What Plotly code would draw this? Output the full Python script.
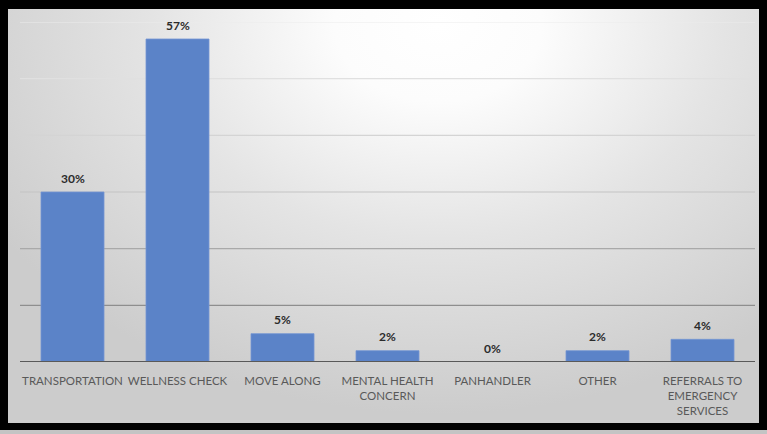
import base64
import plotly.graph_objects as go

categories = ["TRANSPORTATION", "WELLNESS CHECK", "MOVE ALONG", "MENTAL HEALTH<br>CONCERN",
              "PANHANDLER", "OTHER", "REFERRALS TO<br>EMERGENCY<br>SERVICES"]
values = [30, 57, 5, 2, 0, 2, 4]
labels = ["30%", "57%", "5%", "2%", "0%", "2%", "4%"]
grid_values = [10, 20, 30, 40, 50, 60]

grid_colors = ["#8e8e8e", "#a9a9a9", "#c3c3c3", "#d4d4d4", "#e0e0e0", "#ebebeb"]

W, H = 767, 434
ml, mr, mt, mb = 20, 12, 22, 72
pw = W - ml - mr
ph = H - mt - mb

def px_to_paper_x(p):
    return (p - ml) / pw

def px_to_paper_y(p):
    return (H - mb - p) / ph

svg = f'''<svg xmlns="http://www.w3.org/2000/svg" width="751" height="414" viewBox="0 0 751 414" preserveAspectRatio="none">
<defs><radialGradient id="g" gradientUnits="userSpaceOnUse" cx="430" cy="15" r="520"
 gradientTransform="translate(430 15) scale(1 0.75) translate(-430 -15)">
<stop offset="0" stop-color="#ffffff"/>
<stop offset="0.2" stop-color="#fcfcfc"/>
<stop offset="0.55" stop-color="#e4e4e4"/>
<stop offset="0.85" stop-color="#d4d4d4"/>
<stop offset="1" stop-color="#cccccc"/>
</radialGradient></defs>
<rect x="0" y="0" width="751" height="414" fill="url(#g)"/>
</svg>'''
src = "data:image/svg+xml;base64," + base64.b64encode(svg.encode()).decode()

fig = go.Figure()
fig.add_trace(go.Bar(
    x=categories, y=values,
    marker=dict(color="#5B83C8", line=dict(color="#7396D3", width=0.8)),
    width=0.6,
    hoverinfo="skip",
))

for c, v, t in zip(categories, values, labels):
    fig.add_annotation(x=c, y=v, text=f"<b>{t}</b>", showarrow=False,
                       yanchor="middle", yshift=14,
                       font=dict(family="Lato", size=12, color="#2b2b2b"))

shapes = []
for gv, gc in zip(grid_values, grid_colors):
    shapes.append(dict(type="line", xref="paper", yref="y", x0=0, x1=1, y0=gv, y1=gv,
                       line=dict(color=gc, width=1.2), layer="below"))
# baseline
shapes.append(dict(type="line", xref="paper", yref="y", x0=0, x1=1, y0=0, y1=0,
                   line=dict(color="#595959", width=2), layer="above"))
# grey strip under frame
shapes.append(dict(type="rect", xref="paper", yref="paper",
                   x0=px_to_paper_x(0), x1=px_to_paper_x(W),
                   y0=px_to_paper_y(430), y1=px_to_paper_y(H + 2),
                   fillcolor="#c4c4c4", line=dict(width=0), layer="below"))

fig.update_layout(
    width=W, height=H,
    margin=dict(l=ml, r=mr, t=mt, b=mb),
    paper_bgcolor="#000000",
    plot_bgcolor="rgba(0,0,0,0)",
    showlegend=False,
    bargap=0.4,
    shapes=shapes,
    images=[dict(source=src, xref="paper", yref="paper",
                 x=px_to_paper_x(8), y=px_to_paper_y(9),
                 sizex=px_to_paper_x(759) - px_to_paper_x(8),
                 sizey=px_to_paper_y(9) - px_to_paper_y(423),
                 xanchor="left", yanchor="top", sizing="stretch", layer="below")],
    xaxis=dict(showgrid=False, zeroline=False, showline=False, tickangle=0,
               ticks="outside", ticklen=8, tickcolor="rgba(0,0,0,0)",
               tickfont=dict(family="Lato", size=11.5, color="#595959"),
               fixedrange=True),
    yaxis=dict(range=[0, 60], showgrid=False, zeroline=False, showline=False,
               showticklabels=False, fixedrange=True),
)

fig.write_html("out.html", config={"displayModeBar": False},
               post_script="document.body.style.margin='0';document.body.style.overflow='hidden';")
